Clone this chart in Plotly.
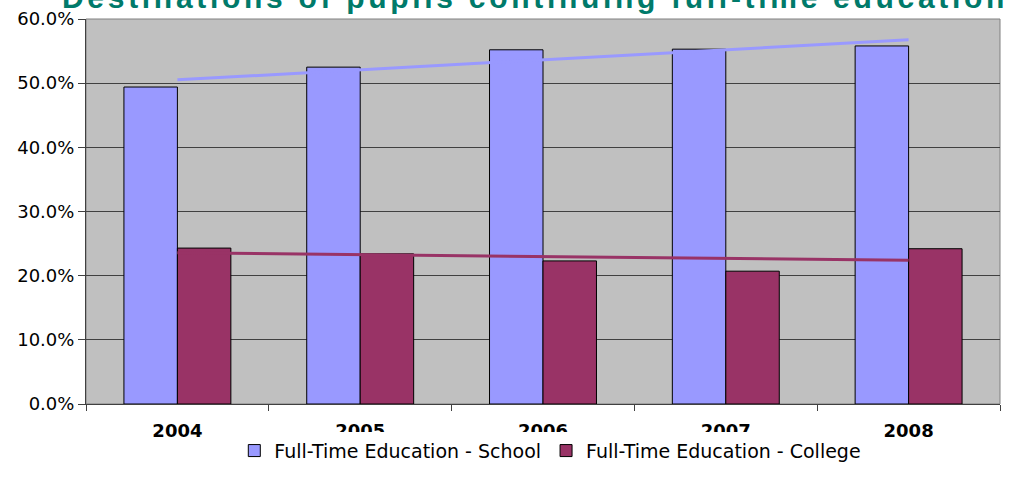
import numpy as np
import plotly.graph_objects as go

years = ["2004", "2005", "2006", "2007", "2008"]
school = [0.494, 0.525, 0.552, 0.553, 0.558]
college = [0.243, 0.234, 0.223, 0.207, 0.242]
series_names = ["Full-Time Education - School", "Full-Time Education - College"]
title_text = "Destinations of pupils continuing full-time education"

school_color = "#9999FF"
college_color = "#993366"

idx = np.arange(len(years))
school_fit = np.polyval(np.polyfit(idx, school, 1), idx)
college_fit = np.polyval(np.polyfit(idx, college, 1), idx)

fig = go.Figure()
fig.add_trace(go.Bar(x=years, y=school, name=series_names[0],
                     marker=dict(color=school_color, line=dict(color="black", width=1))))
fig.add_trace(go.Bar(x=years, y=college, name=series_names[1],
                     marker=dict(color=college_color, line=dict(color="black", width=1))))
fig.add_trace(go.Scatter(x=years, y=school_fit, mode="lines", showlegend=False,
                         line=dict(color=school_color, width=3), hoverinfo="skip"))
fig.add_trace(go.Scatter(x=years, y=college_fit, mode="lines", showlegend=False,
                         line=dict(color=college_color, width=3), hoverinfo="skip"))

fig.update_layout(
    width=1013, height=485,
    margin=dict(l=86, r=13, t=19, b=81, autoexpand=False),
    paper_bgcolor="white",
    plot_bgcolor="#C0C0C0",
    barmode="group",
    bargap=0.415,
    bargroupgap=0,
    font=dict(family="DejaVu Sans", size=18, color="black"),
    showlegend=True,
    legend=dict(orientation="h", x=0.508, xanchor="center", y=-0.072, yanchor="top",
                font=dict(size=19), itemwidth=30, tracegroupgap=0),
    xaxis=dict(type="category", tickson="boundaries", ticks="outside", ticklen=6,
               tickcolor="#404040", showline=True, linecolor="#404040", linewidth=1,
               tickfont=dict(family="DejaVu Sans", size=18, weight="bold"),
               ticklabelstandoff=10, showgrid=False),
    yaxis=dict(range=[0, 0.6], dtick=0.1, tickformat=".1%", ticks="outside",
               ticklen=7, tickcolor="#404040", showline=True, linecolor="#404040",
               linewidth=1, showgrid=True, gridcolor="#404040", gridwidth=1,
               zeroline=False, tickfont=dict(size=18)),
    annotations=[dict(
        text='<span style="letter-spacing:3.7px">' + title_text + '</span>',
        x=(535 - 86) / 914, xanchor="center", xref="paper",
        y=1, yanchor="bottom", yref="paper", yshift=3, showarrow=False,
        font=dict(family="Liberation Sans", size=30, color="#007A6A", weight="bold"),
    )],
    shapes=[dict(type="rect", xref="paper", yref="paper", x0=0, x1=1, y0=0, y1=1,
                 line=dict(color="#808080", width=1), layer="below")],
)

fig.write_html("out.html", config={"displayModeBar": False},
               post_script="document.body.style.margin='0';document.body.style.padding='0';")
